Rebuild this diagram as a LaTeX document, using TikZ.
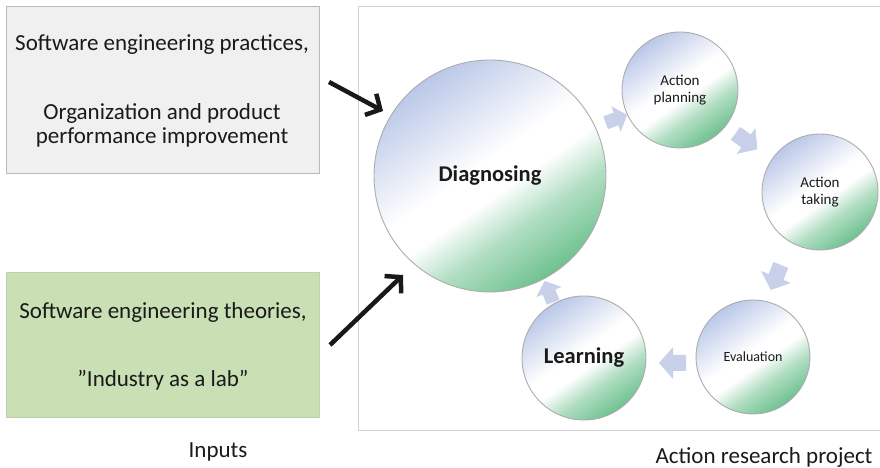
\documentclass[tikz,border=0pt]{standalone}
\usepackage{fontspec}
\setmainfont{Carlito}
\usetikzlibrary{arrows.meta}
\definecolor{cblue}{HTML}{9AAEDD}
\definecolor{cgreen}{HTML}{3CAC68}
\definecolor{boxgray}{HTML}{F0F0F0}
\definecolor{boxgreen}{HTML}{C8E0B4}
\definecolor{chev}{HTML}{C9D1EA}
\definecolor{txt}{HTML}{1A1A1A}
\pgfdeclarehorizontalshading{orb}{100bp}{color(0bp)=(cblue); color(15bp)=(cblue); color(47bp)=(white); color(54bp)=(white); color(63bp)=(cgreen!40!white); color(84bp)=(cgreen); color(100bp)=(cgreen)}
\tikzset{
  orbnode/.style={circle, draw=gray!65, line width=0.9pt, shading=orb, shading angle=-55, minimum size=#1, inner sep=0pt, align=center, text=txt},
  chevron/.pic={\fill[chev] (-13,-8) -- (0,-8) -- (0,-16) -- (14,0) -- (0,16) -- (0,8) -- (-13,8) -- cycle;},
  feed/.style={line width=4.5pt, -{Straight Barb[length=11pt,width=24pt,line width=4.5pt]}, black!90},
  lbl/.style={font=\fontsize{23}{27}\selectfont, text=txt, inner sep=0pt}
}
\begin{document}
\begin{tikzpicture}[x=1pt,y=1pt]
\useasboundingbox (0,0) rectangle (880,468);
% input boxes
\fill[boxgray] (6,294) rectangle (319,461);
\draw[gray!55, line width=1pt] (6,294) rectangle (319,461);
\fill[boxgreen] (6,50) rectangle (319,195);
\draw[boxgreen!85!gray, line width=1pt] (6,50) rectangle (319,195);
\node[lbl] (t1) at (162,423) {Software engineering practices,};
\node[lbl, align=center, font=\fontsize{23}{24}\selectfont] (t2) at (162,343) {Organization and product\\performance improvement};
\node[lbl] (t3) at (163,156) {Software engineering theories,};
\node[lbl] (t4) at (163,88) {”Industry as a lab”};
\node[lbl] (inputs) at (218,16) {Inputs};
% project frame
\draw[gray!35, line width=1pt] (882,37) -- (358.5,37) -- (358.5,461) -- (882,461);
\node[lbl] (arp) at (764,11) {Action research project};
% cycle arrows
\pic[rotate=20, scale=0.85] (c1) at (616,349) {chevron};
\pic[rotate=-36] (c2) at (746,327) {chevron};
\pic[rotate=-112] (c3) at (776,191) {chevron};
\pic[rotate=180] (c4) at (673,105) {chevron};
\pic[rotate=112, scale=0.85] (c5) at (549,176) {chevron};
% circles
\node[orbnode=232pt, font=\bfseries\fontsize{22.5}{26}\selectfont] (diag) at (490,292) {Diagnosing};
\node[orbnode=116pt, font=\fontsize{15}{17}\selectfont] (plan) at (680,378) {Action\\planning};
\node[orbnode=116pt, font=\fontsize{15}{17}\selectfont] (take) at (820,276) {Action\\taking};
\node[orbnode=114pt, font=\fontsize{14}{17}\selectfont] (eval) at (753,111) {Evaluation};
\node[orbnode=124pt, font=\bfseries\fontsize{22.5}{26}\selectfont] (learn) at (584,110) {Learning};
% input arrows
\coordinate (a1s) at (329,386);
\coordinate (a1e) at (383,357);
\coordinate (a2s) at (330,123);
\coordinate (a2e) at (403,193);
\draw[feed] (a1s) -- (a1e);
\draw[feed] (a2s) -- (a2e);
\end{tikzpicture}
\end{document}
